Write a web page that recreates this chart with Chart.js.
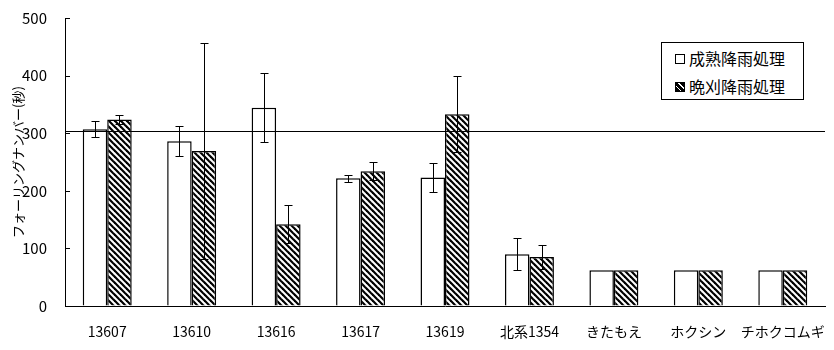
<!DOCTYPE html>
<html lang="ja">
<head>
<meta charset="utf-8">
<title>フォーリングナンバー</title>
<script src="https://cdn.jsdelivr.net/npm/chart.js@4.4.1/dist/chart.umd.min.js"></script>
<style>
  body { margin: 0; background: #fff; }
  #wrap { position: relative; width: 834px; height: 350px; }
  #legend {
    position: absolute; left: 661px; top: 42px; width: 141px; height: 56px;
    border: 1px solid #000; background: #fff;
    font-family: 'Noto Sans CJK JP', sans-serif; font-size: 16px; color: #000;
  }
  .row { position: absolute; left: 13px; height: 20px; line-height: 20px; white-space: nowrap; }
  .box { display: inline-block; width: 8px; height: 8px; border: 1px solid #000; margin-right: 4px; vertical-align: 1px; }
  .box.hatch { background: repeating-linear-gradient(45deg, #000 0 3px, #fff 3px 4px); }
</style>
</head>
<body>
<div id="wrap">
  <canvas id="chart" width="834" height="350"></canvas>
  <div id="legend">
    <div class="row" style="top:5px"><span class="box"></span>成熟降雨処理</div>
    <div class="row" style="top:33px"><span class="box hatch"></span>晩刈降雨処理</div>
  </div>
</div>
<script>
// data
const categories = ['13607', '13610', '13616', '13617', '13619', '北系1354', 'きたもえ', 'ホクシン', 'チホクコムギ'];
const seriesNames = ['成熟降雨処理', '晩刈降雨処理'];
const matureRain = [307, 286, 344, 222, 223, 90, 62, 62, 62];
const matureErr = [14, 26, 60, 6, 25, 28, null, null, null];
const lateRain = [324, 269, 142, 234, 333, 85, 62, 62, 62];
const lateErr = [8, 187, 33, 16, 66, 21, null, null, null];
const yTicks = [0, 100, 200, 300, 400, 500];
const refLine = 303;

Chart.defaults.font.family = "'Noto Sans CJK JP', sans-serif";
Chart.defaults.color = '#000';

// diagonal hatch ("\") for the second series
function makeHatch() {
  const s = 6;
  const c = document.createElement('canvas');
  c.width = s; c.height = s;
  const g = c.getContext('2d');
  g.fillStyle = '#fff';
  g.fillRect(0, 0, s, s);
  g.strokeStyle = '#000';
  g.lineWidth = 2.2;
  for (let k = -1; k <= 1; k++) {
    g.beginPath();
    g.moveTo(-1, k * s - 1);
    g.lineTo(s + 1, k * s + s + 1);
    g.stroke();
  }
  return g.createPattern(c, 'repeat');
}

const errorBars = {
  id: 'errorBars',
  afterDatasetsDraw(chart) {
    const { ctx, chartArea, scales: { y } } = chart;
    const errs = [matureErr, lateErr];
    const vals = [matureRain, lateRain];
    ctx.save();
    ctx.strokeStyle = '#000';
    ctx.lineWidth = 1;
    errs.forEach((list, i) => {
      const meta = chart.getDatasetMeta(i);
      list.forEach((e, j) => {
        if (e == null) return;
        const x = Math.round(meta.data[j].x) + 0.5;
        const top = Math.round(y.getPixelForValue(vals[i][j] + e)) + 0.5;
        const bot = Math.round(y.getPixelForValue(vals[i][j] - e)) + 0.5;
        ctx.beginPath();
        ctx.moveTo(x, top); ctx.lineTo(x, bot);
        ctx.moveTo(x - 4, top); ctx.lineTo(x + 4, top);
        ctx.moveTo(x - 4, bot); ctx.lineTo(x + 4, bot);
        ctx.stroke();
      });
    });
    // reference line
    const ry = Math.round(y.getPixelForValue(refLine)) + 0.5;
    ctx.beginPath();
    ctx.moveTo(chartArea.left, ry);
    ctx.lineTo(chartArea.right, ry);
    // y tick marks point inward
    yTicks.forEach(v => {
      const ty = Math.round(y.getPixelForValue(v)) + 0.5;
      ctx.moveTo(chartArea.left, ty);
      ctx.lineTo(chartArea.left + 5, ty);
    });
    ctx.stroke();
    ctx.restore();
  }
};

new Chart(document.getElementById('chart'), {
  type: 'bar',
  data: {
    labels: categories,
    datasets: [
      { label: seriesNames[0], data: matureRain, backgroundColor: '#fff', borderColor: '#000', borderWidth: 1.5 },
      { label: seriesNames[1], data: lateRain, backgroundColor: makeHatch(), borderColor: '#000', borderWidth: 1.5 }
    ]
  },
  options: {
    responsive: false,
    animation: false,
    layout: { padding: { top: 18, right: 4, bottom: 0, left: 0 } },
    datasets: { bar: { categoryPercentage: 0.58, barPercentage: 1 } },
    plugins: { legend: { display: false }, tooltip: { enabled: false } },
    scales: {
      x: {
        grid: { display: false },
        border: { color: '#000', width: 1 },
        ticks: { font: { size: 14 }, padding: 9, maxRotation: 0, autoSkip: false },
        afterFit: (s) => { s.height = 44; }
      },
      y: {
        min: 0,
        max: 500,
        afterBuildTicks: (s) => { s.ticks = yTicks.map(v => ({ value: v })); },
        // invisible outward ticks only push the labels away from the axis
        grid: { drawOnChartArea: false, drawTicks: true, tickLength: 16, color: 'rgba(0,0,0,0)' },
        border: { color: '#000', width: 1 },
        ticks: { font: { size: 15 }, padding: 2 },
        title: { display: true, text: 'フォーリングナンバー(秒)', font: { size: 13 }, padding: { top: 10, bottom: 0 } },
        afterFit: (s) => { s.width = 65; }
      }
    }
  },
  plugins: [errorBars]
});
</script>
</body>
</html>
